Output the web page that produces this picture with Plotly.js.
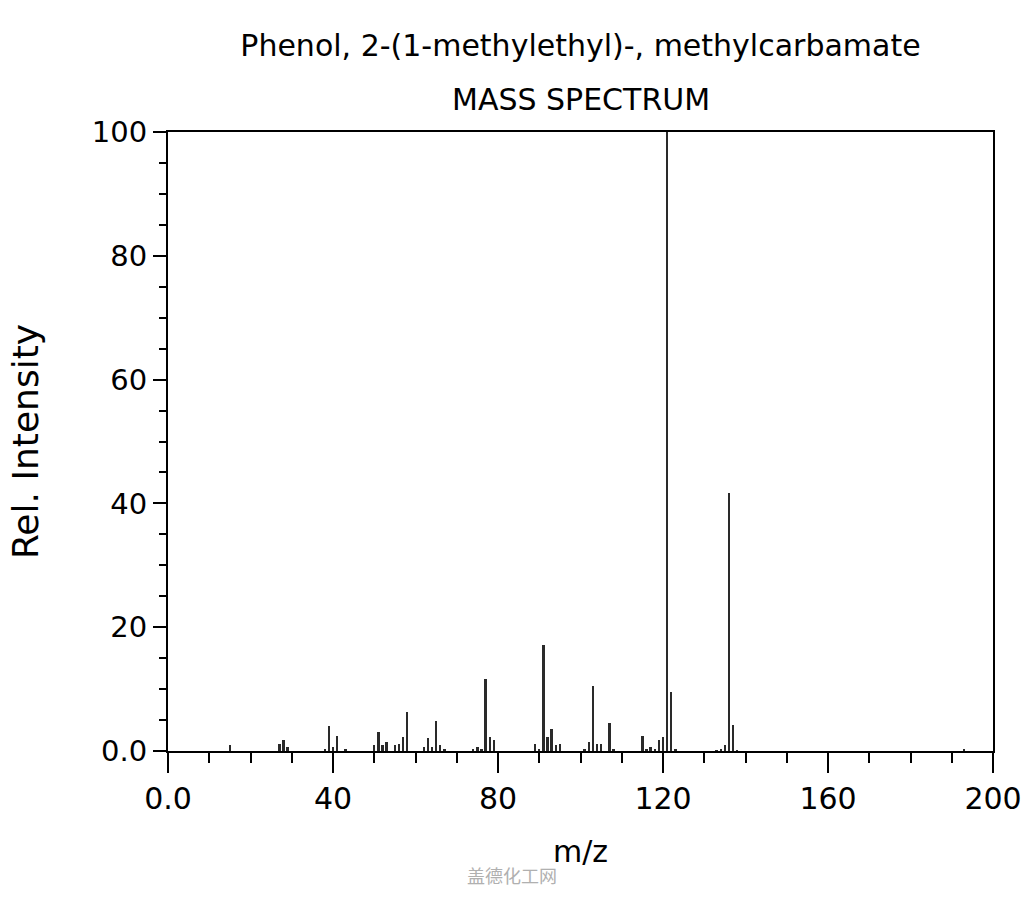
<!DOCTYPE html>
<html>
<head>
<meta charset="utf-8">
<script src="https://cdn.plot.ly/plotly-3.0.1.min.js"></script>
<style>html,body{margin:0;padding:0;background:#fff;}#chart{width:1024px;height:900px;}</style>
</head>
<body>
<div id="chart"></div>
<script>
// m/z values and relative intensities
const mz = [15,27,28,29,38,39,40,41,43,50,51,52,53,55,56,57,58,62,63,64,65,66,67,74,75,76,77,78,79,89,90,91,92,93,94,95,101,102,103,104,105,107,108,115,116,117,118,119,120,121,122,123,133,134,135,136,137,138,193];
const intensity = [1.0,1.2,1.8,0.6,0.4,4.0,0.6,2.4,0.4,0.9,3.1,0.9,1.5,0.9,1.2,2.2,6.3,0.7,2.1,0.7,4.9,0.9,0.4,0.4,0.7,0.4,11.7,2.2,1.8,1.2,0.4,17.1,2.3,3.5,0.9,1.2,0.4,1.4,10.5,1.2,1.2,4.6,0.3,2.4,0.3,0.7,0.4,1.8,2.2,100,9.6,0.4,0.2,0.3,0.9,41.7,4.2,0.2,0.4];

const xTickVals = [0,40,80,120,160,200];
const xTickText = ["0.0","40","80","120","160","200"];
const yTickVals = [0,20,40,60,80,100];
const yTickText = ["0.0","20","40","60","80","100"];

const titleText = "Phenol, 2-(1-methylethyl)-, methylcarbamate";
const subtitleText = "MASS SPECTRUM";
const xLabel = "m/z";
const yLabel = "Rel. Intensity";
const watermark = "盖德化工网";

const font = "DejaVu Sans, Liberation Sans, sans-serif";

const trace = {
  type: "bar",
  x: mz,
  y: intensity,
  width: 0.6,
  marker: {color: "#2a2a2a", line: {width: 0}},
  hoverinfo: "x+y"
};

const layout = {
  width: 1024, height: 900,
  paper_bgcolor: "#ffffff", plot_bgcolor: "#ffffff",
  margin: {l: 168, r: 31, t: 132, b: 149},
  showlegend: false,
  bargap: 0,
  font: {family: font, color: "#000"},
  title: {text: titleText, font: {family: font, size: 30, color: "#000"},
          x: 0.5, xref: "paper", xanchor: "center", y: 1 - 45/900, yref: "container", yanchor: "middle"},
  annotations: [
    {text: subtitleText, xref: "paper", yref: "paper", x: 0.5, y: 1 + 32/619, xanchor: "center", yanchor: "middle",
     showarrow: false, font: {family: font, size: 30, color: "#000"}},
    {text: watermark, xref: "paper", yref: "paper", x: 0.5 - 69/825, y: -124/619, xanchor: "center", yanchor: "middle",
     showarrow: false, font: {family: "Noto Sans CJK SC, sans-serif", size: 18, color: "#b0b0b0"}}
  ],
  xaxis: {
    range: [0, 200],
    tickmode: "array", tickvals: xTickVals, ticktext: xTickText,
    ticks: "outside", ticklen: 20, tickwidth: 2, tickcolor: "#000",
    minor: {dtick: 10, tick0: 0, ticks: "outside", ticklen: 10, tickwidth: 2, tickcolor: "#000", showgrid: false},
    showline: true, linewidth: 2, linecolor: "#000", mirror: true,
    showgrid: false, zeroline: false,
    tickfont: {family: font, size: 30, color: "#000"},
    title: {text: xLabel, font: {family: font, size: 30, color: "#000"}, standoff: 26},
    fixedrange: true
  },
  yaxis: {
    range: [0, 100],
    tickmode: "array", tickvals: yTickVals, ticktext: yTickText,
    ticks: "outside", ticklen: 13, tickwidth: 2, tickcolor: "#000",
    minor: {dtick: 5, tick0: 0, ticks: "outside", ticklen: 7, tickwidth: 2, tickcolor: "#000", showgrid: false},
    showline: true, linewidth: 2, linecolor: "#000", mirror: true,
    showgrid: false, zeroline: false,
    tickfont: {family: font, size: 29, color: "#000"},
    title: {text: yLabel, font: {family: font, size: 36, color: "#000"}, standoff: 42},
    fixedrange: true
  }
};

Plotly.newPlot("chart", [trace], layout, {displayModeBar: false, staticPlot: true});
</script>
</body>
</html>
